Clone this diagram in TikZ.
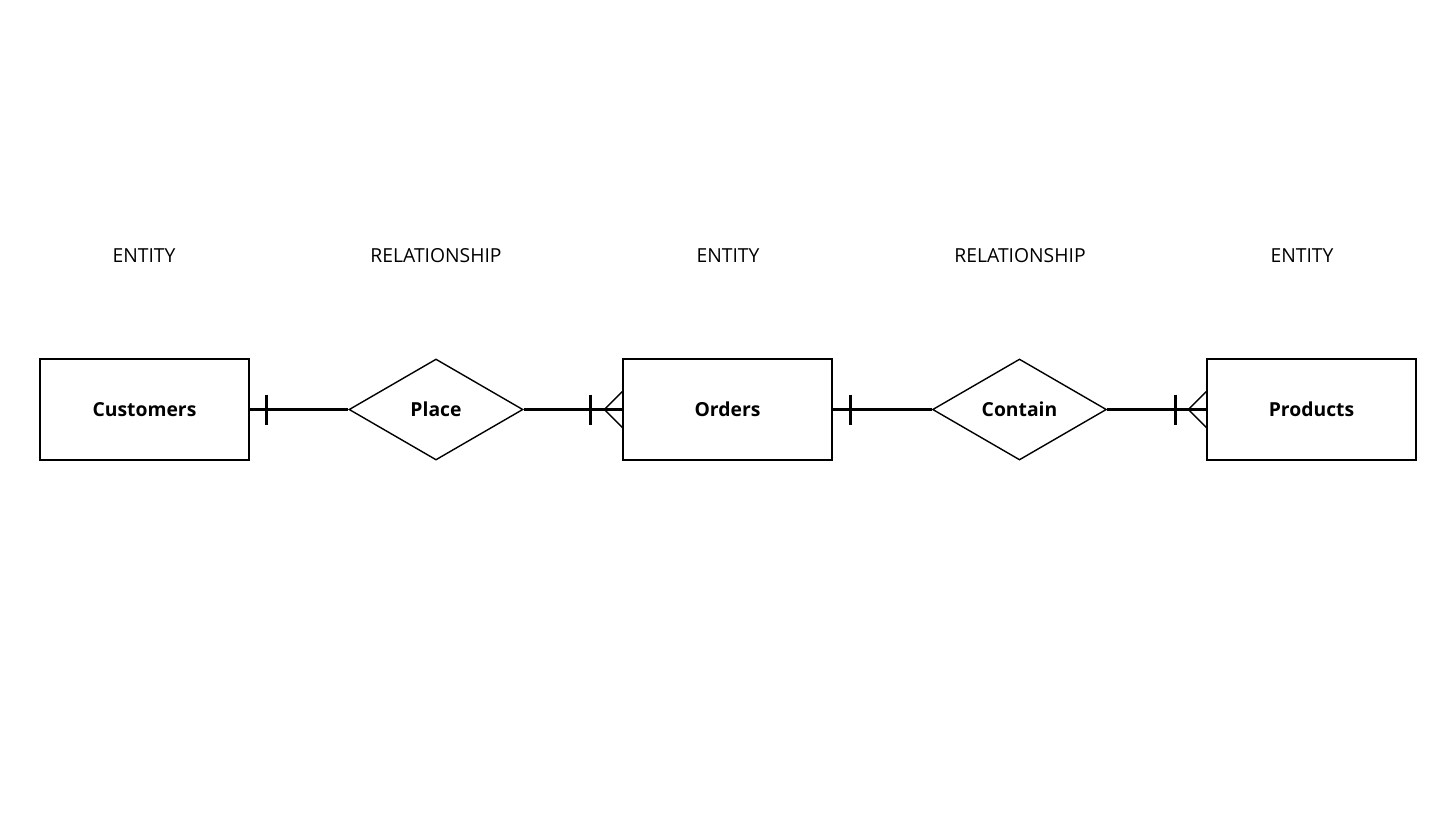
\documentclass[tikz,border=0pt]{standalone}
\usepackage{fontspec}
\setmainfont{Open Sans}
\usetikzlibrary{shapes.geometric}
\usetikzlibrary{calc}

\begin{document}
\begin{tikzpicture}[
    x=0.02cm,
    y=-0.02cm,
    line join=miter,
    entity/.style={
        draw,
        line width=0.8pt,
        minimum width=4.18cm,
        minimum height=2.02cm,
        inner sep=0pt,
        font=\bfseries\fontsize{11}{13}\selectfont
    },
    relation/.style={
        draw,
        diamond,
        aspect=1.72,
        line width=0.8pt,
        minimum width=3.48cm,
        minimum height=2.02cm,
        inner sep=0pt,
        font=\bfseries\fontsize{11}{13}\selectfont
    },
    heading/.style={
        font=\fontsize{11}{13}\selectfont
    },
    link/.style={line width=1.7pt},
    crow/.style={line width=0.8pt}
]

    \useasboundingbox (0,0) rectangle (1456,819);

    % Column headings
    \foreach \x/\t [count=\i] in {144/ENTITY, 436/RELATIONSHIP, 728/ENTITY, 1020/RELATIONSHIP, 1302/ENTITY} {
        \node[heading] (head\i) at (\x,256) {\t};
    }

    % Entities and relationships
    \node[entity] (cust) at (144.5,409.5) {Customers};
    \node[relation] (place) at (436,409.5) {Place};
    \node[entity] (orders) at (727.5,409.5) {Orders};
    \node[relation] (contain) at (1019.5,409.5) {Contain};
    \node[entity] (prod) at (1311.5,409.5) {Products};

    % Connectors
    \draw[link] (cust.east) -- (place.west);
    \draw[link] (place.east) -- (orders.west);
    \draw[link] (orders.east) -- (contain.west);
    \draw[link] (contain.east) -- (prod.west);

    % One bars
    \draw[link] ($(cust.east)+(17,-15)$) -- ($(cust.east)+(17,15)$);
    \draw[link] ($(orders.west)+(-32,-15)$) -- ($(orders.west)+(-32,15)$);
    \draw[link] ($(orders.east)+(18,-15)$) -- ($(orders.east)+(18,15)$);
    \draw[link] ($(prod.west)+(-31,-15)$) -- ($(prod.west)+(-31,15)$);

    % Crow's feet
    \foreach \n in {orders, prod} {
        \draw[crow] ($(\n.west)+(0,-18)$) -- ($(\n.west)+(-18,0)$) -- ($(\n.west)+(0,18)$);
    }

\end{tikzpicture}
\end{document}
